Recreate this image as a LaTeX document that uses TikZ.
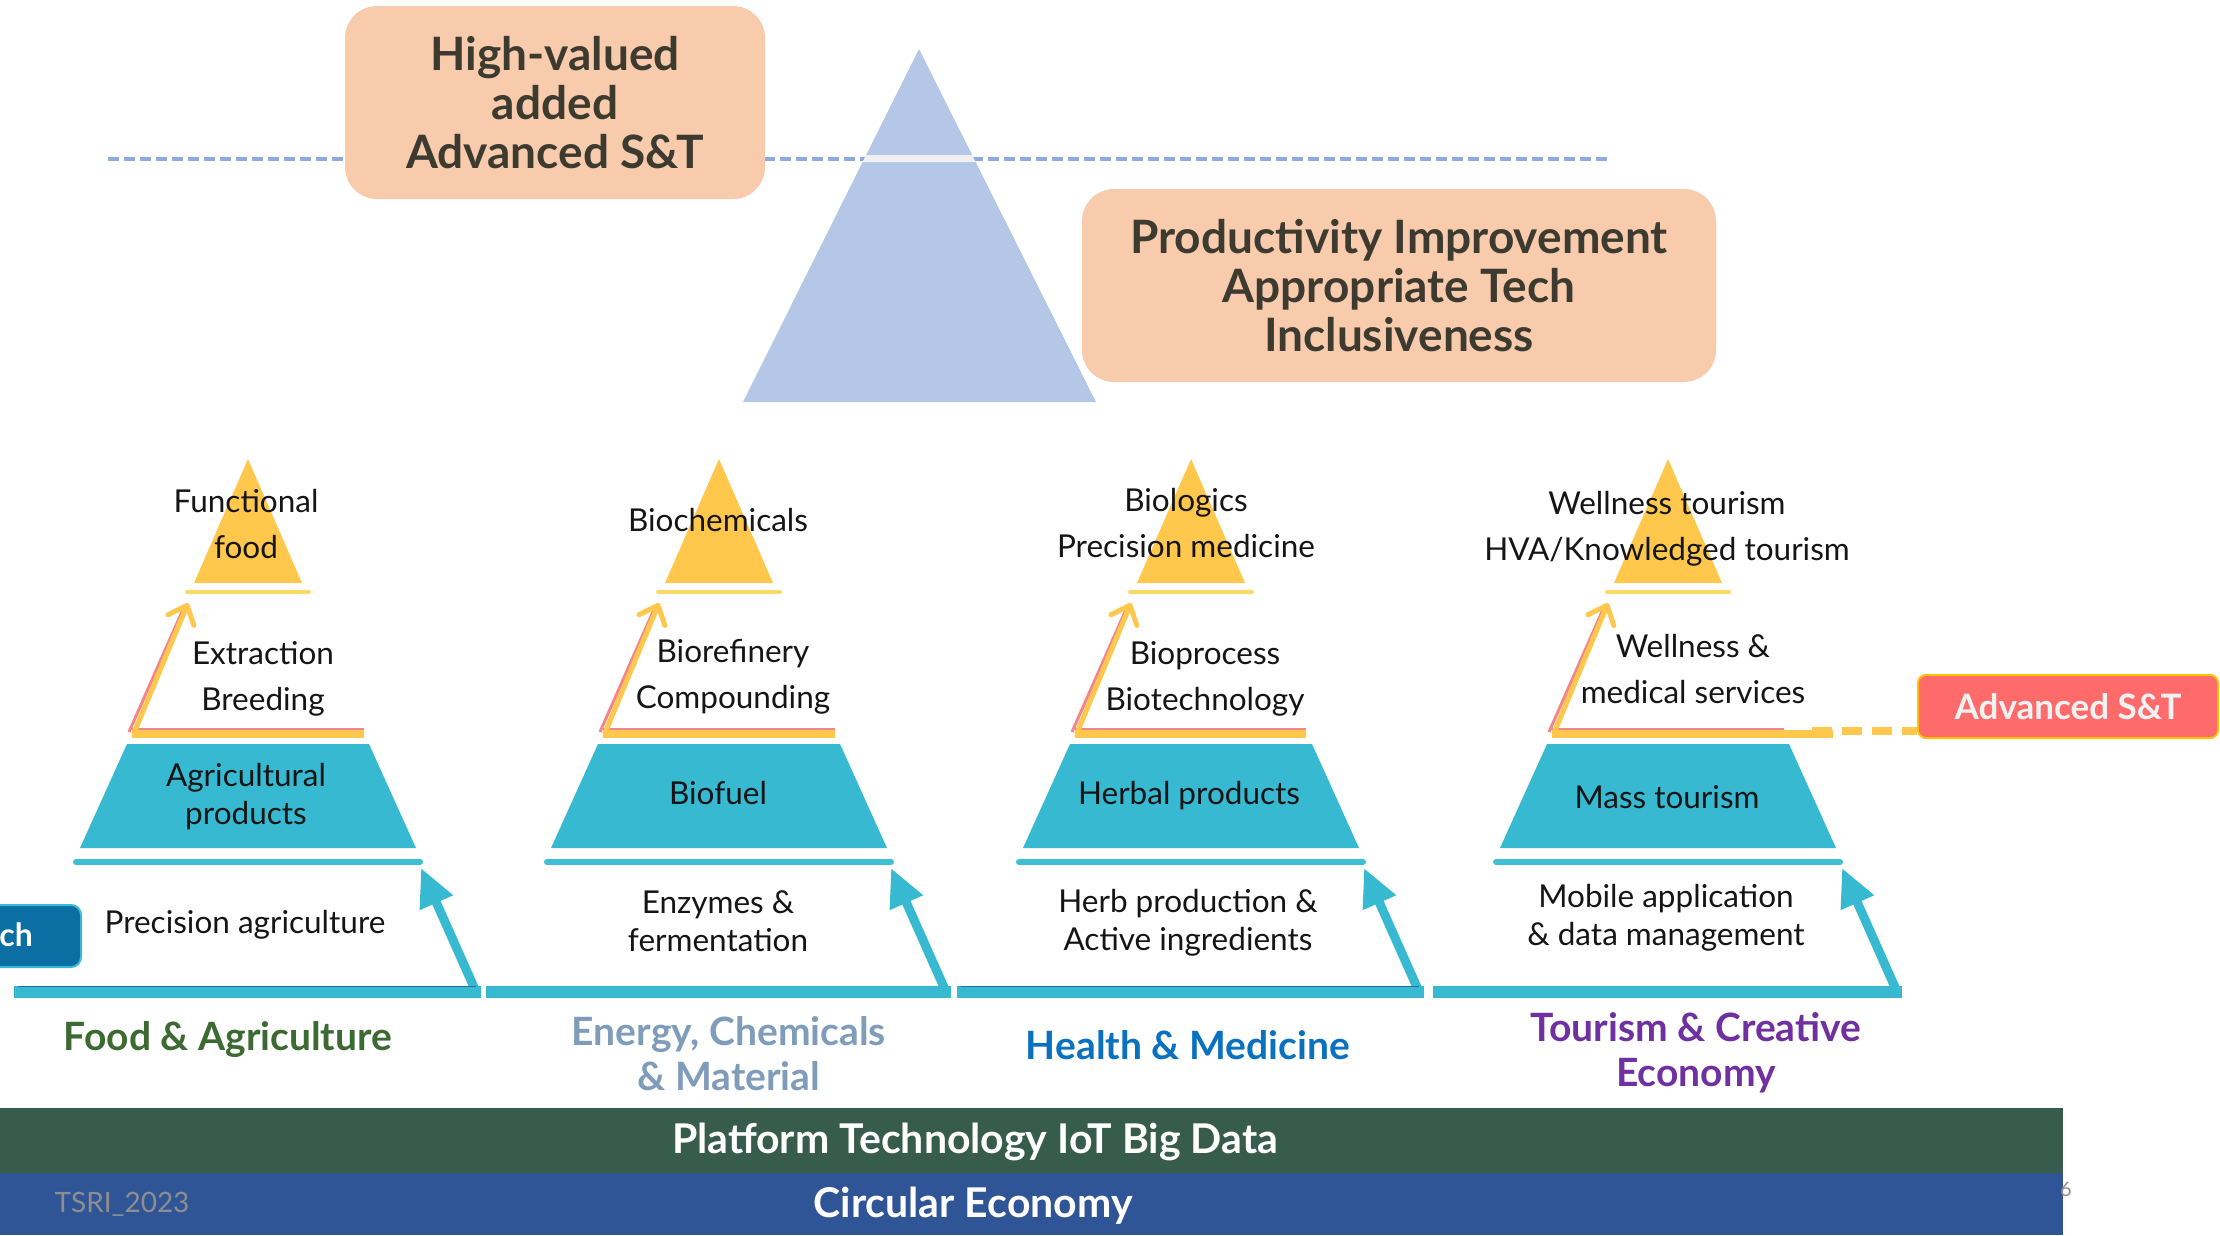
\documentclass[tikz,border=0pt]{standalone}
\usepackage{fontspec}
\setmainfont{Lato}
\usetikzlibrary{arrows.meta}
\definecolor{peach}{HTML}{F8CBAD}
\definecolor{darktxt}{HTML}{3D3A30}
\definecolor{bigtri}{HTML}{B4C7E7}
\definecolor{dashblue}{HTML}{8FAADC}
\definecolor{trigap}{HTML}{F0F0F0}
\definecolor{ylw}{HTML}{FFC84C}
\definecolor{ylwlight}{HTML}{FFD966}
\definecolor{pinkc}{HTML}{F4858A}
\definecolor{tealc}{HTML}{36B9D1}
\definecolor{tealbar}{HTML}{3FBFD6}
\definecolor{darkline}{HTML}{1F6FA8}
\definecolor{tabblue}{HTML}{0B6FA4}
\definecolor{tabedge}{HTML}{3BB8D4}
\definecolor{redbox}{HTML}{FF6B6B}
\definecolor{orangeedge}{HTML}{FFC000}
\definecolor{foodgreen}{HTML}{3D6A32}
\definecolor{energygrey}{HTML}{7F9CBB}
\definecolor{healthblue}{HTML}{0A70C0}
\definecolor{tourpurple}{HTML}{7030A0}
\definecolor{bandgreen}{HTML}{375B4C}
\definecolor{bandblue}{HTML}{2F5597}
\definecolor{greytxt}{HTML}{8E8E8E}
\definecolor{lbltxt}{HTML}{151515}

\tikzset{
  headbox/.style={fill=peach, rounded corners=32pt, draw=none, align=center,
    text=darktxt, font=\bfseries\fontsize{46}{49}\selectfont},
  lbl/.style={font=\fontsize{31.5}{46}\selectfont, text=lbltxt, align=center, inner sep=0pt},
  lbltight/.style={lbl, font=\fontsize{31.5}{38}\selectfont},
  catlbl/.style={font=\bfseries\fontsize{39}{45}\selectfont, align=center, inner sep=0pt},
  bandlbl/.style={font=\bfseries\fontsize{41}{46}\selectfont, text=white, inner sep=0pt},
  tealarrow/.style={tealc, line width=9pt, -{Triangle[length=38pt,width=34pt]}},
  ylwarrow/.style={ylw, line width=5pt, line cap=round, -{Straight Barb[length=16pt,width=28pt,round]}},
}

\newcommand{\drawpyr}[1]{%
  \fill[ylw] ({#1},459) -- ({#1+54},583) -- ({#1-54},583) -- cycle;
  \draw[ylwlight, line width=4pt, line cap=round] ({#1-61},592) -- ({#1+61},592);
  \fill[tealc] ({#1-121},744) -- ({#1+121},744) -- ({#1+168},848) -- ({#1-168},848) -- cycle;
  \draw[tealbar, line width=6pt, line cap=round] ({#1-172},862) -- ({#1+172},862);
}
\newcommand{\orangearrow}[3]{%
  \draw[pinkc, line width=3pt] ({#1-116},729) -- (#3,729);
  \draw[pinkc, line width=3pt] ({#1-119},732) -- ({#1-63},605);
  \draw[ylw, line width=8pt] ({#1-116},734) -- (#2,734);
  \draw[ylwarrow] ({#1-114},733) -- ({#1-60},603);
}
\newcommand{\tealseg}[3]{%
  \fill[tealc] (#1,986) rectangle (#2,998);
  \draw[tealarrow] ({#2-4},994) -- (#3,868);
}

\begin{document}
\begin{tikzpicture}[x=1pt,y=-1pt]
\useasboundingbox (0,0) rectangle (2220,1235);
\begin{scope}
\clip (0,0) rectangle (2220,1235);

% top dashed line, big triangle
\draw[dashblue, line width=4pt, dash pattern=on 11pt off 5pt] (108,158.5) -- (1609,158.5);
\fill[bigtri] (919,49) -- (1096,402) -- (743,402) -- cycle;
\fill[trigap] (866,155) -- (972,155) -- (975.5,162) -- (862.5,162) -- cycle;

% peach boxes
\node[headbox, minimum width=420pt, minimum height=193pt] (hv) at (555,102.5)
  {High-valued\\added\\Advanced S\&T};
\node[headbox, minimum width=634pt, minimum height=193pt] (pi) at (1399,285.5)
  {Productivity Improvement\\Appropriate Tech\\Inclusiveness};

% pyramids
\drawpyr{248}
\drawpyr{719}
\drawpyr{1191}
\drawpyr{1668}
\orangearrow{248}{364}{364}
\orangearrow{719}{835}{835}
\orangearrow{1191}{1306}{1306}
\orangearrow{1668}{1833}{1784}

% teal base arrows
\tealseg{14}{481}{421}
\tealseg{486}{951}{891}
\tealseg{957}{1424}{1364}
\tealseg{1433}{1902}{1842}
\draw[darkline, line width=1.5pt] (18,986.5) -- (476,986.5);
\draw[darkline, line width=1.5pt] (961,986.5) -- (1419,986.5);

% left tab
\fill[tabblue, draw=tabedge, line width=2pt, rounded corners=10pt] (-40,905) rectangle (81,967);
\node[font=\bfseries\fontsize{32}{38}\selectfont, text=white, anchor=east, inner sep=0pt] (tab) at (33,935) {ch};

% advanced S&T box and connector
\node[fill=redbox, draw=orangeedge, line width=2pt, rounded corners=8pt,
  minimum width=300pt, minimum height=63pt, text=white!95!black,
  font=\bfseries\fontsize{35}{40}\selectfont] (adv) at (2068,706.5) {Advanced S\&T};
\coordinate (p4end) at (1812,731);
\draw[ylw, line width=8pt, dash pattern=on 20pt off 10pt] (p4end) -- (adv.west |- p4end);

% pyramid labels
\node[lbl] (t1) at (246,524) {Functional\\food};
\node[lbl] (t2) at (718,520) {Biochemicals};
\node[lbl] (t3) at (1186,523) {Biologics\\Precision medicine};
\node[lbl] (t4) at (1667,529) {Wellness tourism\\HVA/Knowledged tourism};

\node[lbl] (m1) at (263,679) {Extraction\\Breeding};
\node[lbl] (m2) at (733,677) {Biorefinery\\Compounding};
\node[lbl] (m3) at (1205,679) {Bioprocess\\Biotechnology};
\node[lbl] (m4) at (1693,669) {Wellness \&\\medical services};

\node[lbltight] (b1) at (246,797) {Agricultural\\products};
\node[lbl] (b2) at (718,793) {Biofuel};
\node[lbl] (b3) at (1189,796) {Herbal products};
\node[lbl] (b4) at (1667,797) {Mass tourism};

\node[lbl] (l1) at (245,925) {Precision agriculture};
\node[lbltight] (l2) at (718,921) {Enzymes \&\\fermentation};
\node[lbltight] (l3) at (1188,923) {Herb production \&\\Active ingredients};
\node[lbltight] (l4) at (1666,918) {Mobile application\\\& data management};

% category labels
\node[catlbl, text=foodgreen] (c1) at (228,1040) {Food \& Agriculture};
\node[catlbl, text=energygrey] (c2) at (729,1054) {Energy, Chemicals\\\& Material};
\node[catlbl, text=healthblue] (c3) at (1188,1045) {Health \& Medicine};
\node[catlbl, text=tourpurple] (c4) at (1696,1053) {Tourism \& Creative\\Economy};

% bottom bands
\fill[bandgreen] (0,1108) rectangle (2063,1173);
\fill[bandblue] (0,1173) rectangle (2063,1235);
\node[bandlbl] (plat) at (975,1142) {Platform Technology IoT Big Data};
\node[bandlbl] (circ) at (973,1206) {Circular Economy};
\node[font=\fontsize{28}{32}\selectfont, text=greytxt, inner sep=0pt] (tsri) at (122,1204) {TSRI\_2023};
\node[font=\fontsize{20}{24}\selectfont, text=greytxt, inner sep=0pt] (pgno) at (2066,1189) {6};
\end{scope}
\end{tikzpicture}
\end{document}
